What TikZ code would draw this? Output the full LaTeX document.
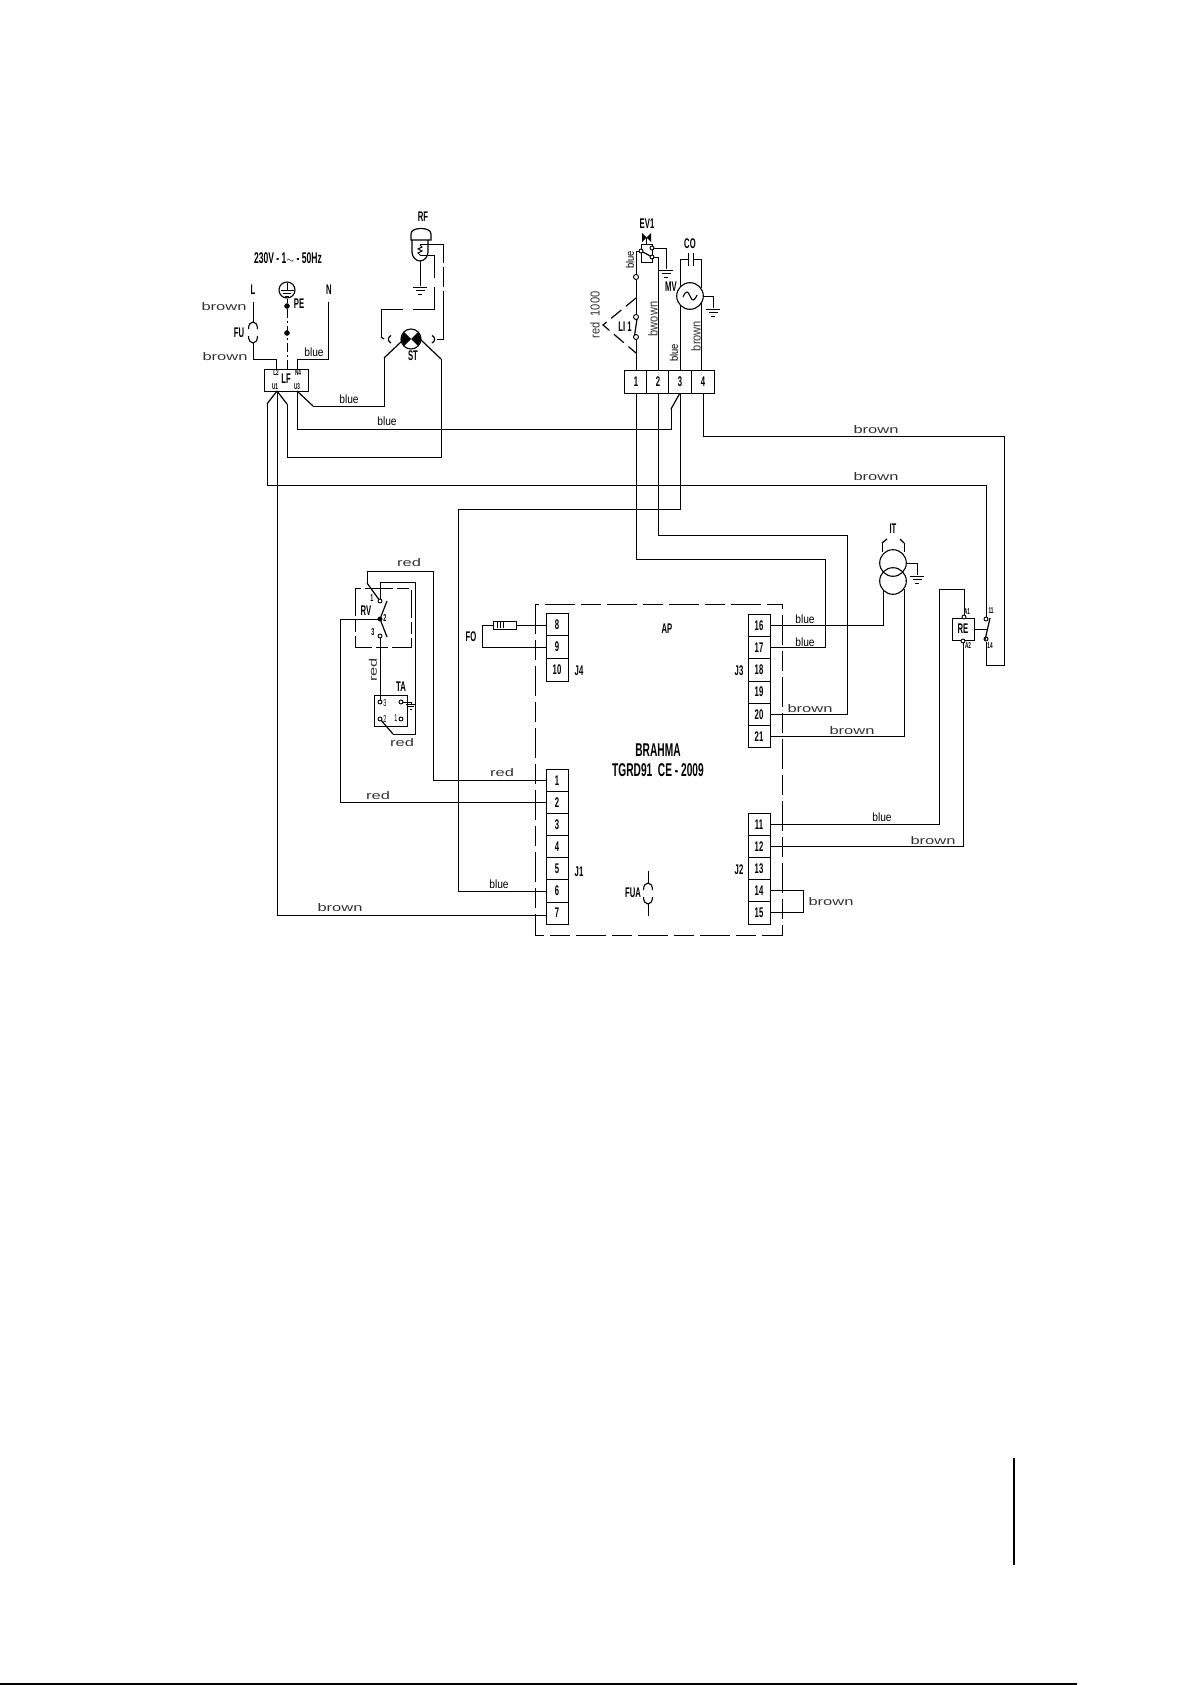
\documentclass[tikz,border=0pt]{standalone}
\usepackage{fontspec}
\newfontfamily\cadb[FakeStretch=0.55]{Liberation Sans}
\newfontfamily\cadw[FakeStretch=1.5]{Liberation Sans}
\newfontfamily\cadn[FakeStretch=0.85]{Liberation Sans}
\newcommand\fpin{\cadb\bfseries\fontsize{14}{14}\selectfont}
\newcommand\flab{\cadb\bfseries\fontsize{14}{14}\selectfont}
\newcommand\fsmall{\cadb\bfseries\fontsize{8.5}{8.5}\selectfont}
\newcommand\ftitle{\cadb\bfseries\fontsize{18.5}{18.5}\selectfont}
\newcommand\fwide{\cadw\fontsize{11}{11}\selectfont\color{black!80}}
\newcommand\fblue{\cadn\fontsize{12}{12}\selectfont}
\newcommand\frot{\cadn\fontsize{13}{13}\selectfont\color{black!80}}
\tikzset{
  wire/.style={line width=0.95pt,line join=miter},
  diag/.style={line width=1.2pt},
  dashbox/.style={line width=0.95pt,dash pattern=on 30pt off 6pt on 20pt off 6pt},
  pin/.style={draw,line width=0.95pt,minimum width=22pt,minimum height=22.15pt,inner sep=0pt,font=\fpin},
  lab/.style={inner sep=0pt,font=\flab},
  small/.style={inner sep=0pt,font=\fsmall},
  wlab/.style={inner sep=0pt,font=\fwide},
  blab/.style={inner sep=0pt,font=\fblue},
  term/.style={draw,circle,line width=0.9pt,fill=white,minimum size=5pt,inner sep=0pt},
  dot/.style={draw,circle,fill=black,minimum size=5pt,inner sep=0pt},
  earth/.pic={\draw[line width=0.95pt] (-7,0)--(7,0) (-4.5,3.5)--(4.5,3.5) (-2,7)--(2,7);},
  fuse/.pic={\draw[line width=1.1pt] (-4.5,-3.5) .. controls (-4.5,-8) and (-2.5,-10.5) .. (0,-10.5) .. controls (2.5,-10.5) and (4.5,-8) .. (4.5,-3.5)
     (-4.5,3.5) .. controls (-4.5,8) and (-2.5,10.5) .. (0,10.5) .. controls (2.5,10.5) and (4.5,8) .. (4.5,3.5);}
}
\begin{document}
\begin{tikzpicture}[x=1pt,y=-1pt]
\useasboundingbox (0,0) rectangle (1192,1685);
% ---- page marks
\coordinate (va) at (1014,1458); \coordinate (vb) at (1014,1565);
\coordinate (ba) at (0,1684); \coordinate (bb) at (1077,1684);
\draw[line width=1.3pt] (va)--(vb);
\draw[line width=2pt] (ba)--(bb);
% ---- board
\coordinate (apnw) at (535,604); \coordinate (apse) at (782,935);
\draw[dashbox] (apnw) rectangle (apse);
\foreach \n/\y in {8/625,9/647,10/670}{\node[pin,fill=white] (p\n) at (557,\y) {\n};}
\foreach \n/\y in {1/780.5,2/802.6,3/824.7,4/846.8,5/868.9,6/891,7/913.1}{\node[pin,fill=white] (a\n) at (557,\y) {\n};}
\foreach \n/\y in {16/625.5,17/647.7,18/669.9,19/692.1,20/714.3,21/736.5}{\node[pin,fill=white] (p\n) at (759,\y) {\n};}
\foreach \n/\y in {11/824.5,12/846.6,13/868.7,14/890.8,15/912.9}{\node[pin,fill=white] (p\n) at (759,\y) {\n};}
\node[lab] (tj4) at (579,671) {J4};
\node[lab] (tj3) at (739,671) {J3};
\node[lab] (tj1) at (579,872) {J1};
\node[lab] (tj2) at (739,870) {J2};
\node[lab] (tap) at (667,629) {AP};
\node[inner sep=0pt,font=\ftitle] (tbr) at (658,750) {BRAHMA};
\node[inner sep=0pt,font=\ftitle] (ttg) at (658,770) {TGRD91\ \ CE - 2009};
\node[lab] (tfua) at (633,893) {FUA};
\coordinate (fuat) at (648,871); \coordinate (fuab) at (648,916);
\draw[wire] (fuat)--(648,883) (648,904)--(fuab);
\pic at (648,893.5) {fuse};
% ---- FO
\node[draw,line width=0.95pt,minimum width=23pt,minimum height=8pt,inner sep=0pt] (fo) at (504.5,625) {};
\draw[line width=0.8pt] (497,622)--(497,628) (500,622)--(500,628) (503,622)--(503,628);
\draw[wire] (p8.west)--(fo.east);
\draw[wire] (fo.west)--(482,625)--(482,647)--(p9.west);
\node[lab] (tfo) at (471,637) {FO};
% ---- LF
\node[draw,line width=0.95pt,minimum width=44.5pt,minimum height=22pt,inner sep=0pt] (lf) at (286.5,380) {};
\node[lab] (tlf) at (286,379) {LF};
\node[small] (tl2) at (276,373) {L2};
\node[small] (tn4) at (298,373) {N4};
\node[small] (tu1) at (275,387) {U1};
\node[small] (tu3) at (297,387) {U3};
\coordinate (u1) at (277,391); \coordinate (u3) at (297,391);
\coordinate (l2) at (276,369); \coordinate (n4) at (297,369);
\node[lab,font=\cadb\bfseries\fontsize{15.5}{15.5}\selectfont] (t230) at (288,258) {230V - 1\scalebox{0.7}[0.8]{$\sim$} - 50Hz};
\node[lab] (tL) at (253,290) {L};
\node[lab] (tN) at (329,290) {N};
\node[lab] (tPE) at (299,304) {PE};
\node[lab] (tFU) at (239,333) {FU};
\node[wlab] (tb1) at (224,307) {brown};
\node[wlab] (tb2) at (225,357) {brown};
\node[blab] (tb3) at (314,352) {blue};
\node[blab] (tb4) at (349,399) {blue};
\node[blab] (tb5) at (387,421) {blue};
% L, fuse
\coordinate (Ltop) at (253,302);
\draw[wire] (Ltop)--(253,322) (253,343)--(253,359)--(276,359)--(l2);
\pic at (253,332.5) {fuse};
% PE
\node[draw,circle,line width=1.1pt,minimum size=16pt,inner sep=0pt] (pe) at (287,290) {};
\draw[line width=0.9pt] (280.5,290)--(293.5,290) (283,293)--(291,293) (285,296)--(289,296) (287,283)--(287,290);
\node[dot] (d1) at (287,306) {};
\node[dot] (d2) at (287,333) {};
\draw[wire] (pe.south)--(d1);
\draw[wire,dash pattern=on 9pt off 3pt on 2pt off 3pt] (d1)--(287,369);
% N
\coordinate (Ntop) at (328,302);
\draw[wire] (Ntop)--(328,359)--(297,359)--(n4);
% ---- ST and RF
\node[draw,circle,line width=1.1pt,minimum size=20pt,inner sep=0pt] (st) at (411,339) {};
\fill (403.9,331.9)--(418.1,346.1)--(421,339)--(418.1,331.9)--(403.9,346.1)--(401,339)--cycle;
\node[lab] (tst) at (413,356) {ST};
\node[lab] (trf) at (423,217) {RF};
\coordinate (stl) at (402,341); \coordinate (str) at (420,339);
\draw[diag] (u3)--(313,406) (384,358)--(stl);
\draw[wire] (313,406)--(384,406)--(384,358);
\draw[diag] (u1)--(287,404) (441,359)--(str);
\draw[wire] (287,404)--(287,457)--(441,457)--(441,359);
\draw[wire] (u3)--(297,429)--(671,429)--(671,409);
\draw[diag] (671,409)--(680,393);
\coordinate (w7) at (277,915);
\draw[wire] (u1)--(w7)--(w7-|a7.west);
\draw[diag] (u1)--(267,404);
\draw[wire] (267,404)--(267,485)--(986,485)--(986,616.5);
% RF bulb
\draw[diag] (411,240) -- (411,234) .. controls (411,230) and (416,228.5) .. (421,228.5) .. controls (426,228.5) and (431,230) .. (431,234) -- (431,240) -- cycle;
\draw[diag] (412,240)--(412,252) .. controls (412,257) and (416,261) .. (420,261) .. controls (424,261) and (428,257) .. (428,252)--(428,240);
\coordinate (rfb) at (420,261);
\draw[wire] (rfb)--(420,286);
\pic at (420,287) {earth};
\draw[line width=0.9pt] (420,245)--(422,247)--(418,249)--(422,251)--(418,253)--(420,255);
\draw[wire] (420,244)--(443,244)--(443,263);
\draw[wire] (443,267)--(443,287) (443,291)--(443,339)--(437,339);
\draw[wire] (420,255)--(434,255)--(434,278);
\draw[wire] (434,287)--(434,309)--(413,309);
\draw[wire] (403,309)--(381,309)--(381,337);
\draw[diag] (381,337)--(384,339);
\draw[diag] (391,335.5) .. controls (387.5,337) and (387.5,341.5) .. (391,343);
\draw[diag] (432,335.5) .. controls (435.5,337) and (435.5,341.5) .. (432,343);
% ---- EV1, LI1, connector block
\foreach \n/\x in {1/636,2/658,3/680,4/703}{\node[pin,fill=white,minimum width=22.4pt] (c\n) at (\x,382) {\n};}
\node[lab] (tev) at (647,224) {EV1};
\fill (642,233)--(651,242)--(651,233)--(642,242)--cycle;
\coordinate (evt) at (646.5,238);
\node[draw,line width=0.95pt,minimum width=11pt,minimum height=18pt,inner sep=0pt] (ev) at (646.5,253) {};
\draw[wire] (evt)--(ev.north);
\draw[wire] (636,251)--(641,251);
\draw[diag] (641,251)--(652,257);
\draw[wire] (652,248)--(666,248)--(666,269);
\pic at (666,270) {earth};
\draw[wire] (652,257)--(658,257)--(c2.north);
\draw[wire] (636,251)--(636,277);
\node[term] (li0) at (636,277) {};
\draw[wire] (li0)--(636,314);
\node[term] (li1) at (636,317) {};
\node[term] (li2) at (636,337) {};
\draw[diag] (637,319)--(634.5,336);
\draw[wire] (li2)--(c1.north);
\node[term,minimum size=4pt] (e1) at (641,251) {};
\node[term,minimum size=4pt] (e2) at (652,248) {};
\node[term,minimum size=4pt] (e3) at (652,257) {};
\draw[diag,dash pattern=on 13pt off 6pt] (636,298)--(603,325)--(636,353);
\node[inner sep=0pt,font=\frot,rotate=90] (tred) at (595,315) {red\ \ 1000};
\node[lab] (tli) at (625,327) {LI 1};
\node[inner sep=0pt,font=\cadn\fontsize{11}{11}\selectfont,rotate=90] (tbl1) at (630,260) {blue};
\node[inner sep=0pt,font=\frot,rotate=90] (tbw) at (653,319) {bwown};
\node[inner sep=0pt,font=\cadn\fontsize{11}{11}\selectfont,rotate=90] (tbl2) at (674,353) {blue};
\node[inner sep=0pt,font=\frot,rotate=90] (tbr2) at (696,336) {brown};
% MV, CO
\node[draw,circle,line width=1.1pt,minimum size=26.6pt,inner sep=0pt] (mv) at (690,296) {};
\draw[line width=1.1pt] (683,297) .. controls (686,290) and (688,291) .. (690,296) .. controls (692,301) and (694,302) .. (697,295);
\node[lab] (tmv) at (671,287) {MV};
\node[lab] (tco) at (690,244) {CO};
\draw[wire] (mv.east)--(713,296)--(713,308);
\pic at (713,309) {earth};
\coordinate (cl) at (688,259); \coordinate (cr) at (693,259);
\draw[wire] (688,253)--(cl) (688,266)--(cl) (693,253)--(cr) (693,266)--(cr);
\draw[wire] (cl)--(680,259)--(680,287);
\draw[wire] (680,305)--(c3.north);
\draw[wire] (cr)--(701,259)--(701,288.5);
\draw[wire] (701,303.5)--(701,371);
% below block
\draw[wire] (c1.south)--(636,559)--(825,559)--(825,647.7)--(p17.east);
\draw[wire] (c2.south)--(658,535)--(847,535)--(847,714.3)--(p20.east);
\draw[wire] (c3.south)--(680,509)--(458,509)--(458,891)--(a6.west);
\draw[wire] (c4.south)--(703,436)--(1004,436)--(1004,665)--(986,665)--(986,641.5);
\node[wlab] (tbr3) at (876,430) {brown};
\node[wlab] (tbr4) at (876,477) {brown};
% ---- IT
\node[draw,circle,line width=1.1pt,minimum size=26.6pt,inner sep=0pt] (it1) at (893,563) {};
\node[draw,circle,line width=1.1pt,minimum size=26.6pt,inner sep=0pt] (it2) at (893,581) {};
\node[lab] (tit) at (893,529) {IT};
\draw[wire] (882,552)--(882,543) (904,552)--(904,543);
\draw[diag] (882,543)--(887,539) (904,543)--(900,539);
\draw[wire] (p16.east)--(883,625.5)--(883,591);
\draw[wire] (p21.east)--(904,736.5)--(904,589);
\draw[wire] (it1.east)--(917,563)--(917,575);
\pic at (917,576) {earth};
\node[blab] (tbl3) at (805,619) {blue};
\node[blab] (tbl4) at (805,642) {blue};
\node[wlab] (tbr5) at (810,709) {brown};
\node[wlab] (tbr6) at (852,731) {brown};
% ---- RE
\node[draw,line width=0.95pt,minimum size=22pt,inner sep=0pt] (re) at (963,629) {};
\node[lab] (tre) at (963,629) {RE};
\node[term,minimum size=4pt] (ra1) at (964,617) {};
\node[term,minimum size=4pt] (ra2) at (963,641) {};
\node[term,minimum size=4pt] (k11) at (986,619) {};
\node[term,minimum size=4pt] (k14) at (986,639) {};
\draw[wire] (ra1)--(964,589)--(939.5,589)--(939.5,824.5)--(p11.east);
\draw[wire] (ra2)--(963,846.6)--(p12.east);
\draw[wire] (re.east)--(987,629);
\draw[diag] (990,618)--(985,640);
\node[small] (ta1) at (967,612) {A1};
\node[small] (ta2) at (968,646) {A2};
\node[small] (t11) at (991,611) {11};
\node[small] (t14) at (990,646) {14};
\draw[wire] (p14.east)--(803,890.8)--(803,912.9)--(p15.east);
\node[blab] (tbl5) at (882,817) {blue};
\node[wlab] (tbr7) at (933,841) {brown};
\node[wlab] (tbr8) at (831,902) {brown};
% ---- RV, TA
\draw[line width=0.95pt,dash pattern=on 28pt off 4pt on 12pt off 4pt] (355,588) rectangle (411,647);
\node[term,minimum size=4pt] (rv1) at (380,601) {};
\node[dot,minimum size=4.5pt] (rv2) at (380,619) {};
\node[term,minimum size=4pt] (rv3) at (380,636) {};
\draw[diag] (rv2)--(387,601) (rv2)--(387,637);
\node[lab] (trv) at (366,611) {RV};
\node[small,font=\cadb\bfseries\fontsize{10}{10}\selectfont] (t1) at (372,598) {1};
\node[small,font=\cadb\bfseries\fontsize{10}{10}\selectfont] (t2) at (385,618) {2};
\node[small,font=\cadb\bfseries\fontsize{10}{10}\selectfont] (t3) at (373,632) {3};
\node[draw,line width=0.95pt,minimum width=33pt,minimum height=31pt,inner sep=0pt] (ta) at (390.5,710.5) {};
\node[term,minimum size=4pt] (ta3) at (380,702) {};
\node[term,minimum size=4pt] (ta2n) at (380,719) {};
\node[term,minimum size=4pt] (ta4) at (401,702) {};
\node[term,minimum size=4pt] (ta1n) at (401,719) {};
\node[small,font=\cadb\fontsize{10}{10}\selectfont] (t5) at (385,703) {3};
\node[small,font=\cadb\fontsize{10}{10}\selectfont] (t6) at (385,719) {2};
\node[small,font=\cadb\fontsize{10}{10}\selectfont] (t7) at (396,718) {1};
\node[lab] (tta) at (401,687) {TA};
\draw[wire] (rv3)--(ta3);
\draw[wire] (ta4)--(412,702);
\draw[line width=0.95pt] (406,704)--(416,704) (408,706.5)--(414,706.5) (410,709)--(412,709) (411,702)--(411,704);
\draw[wire] (rv1)--(380,582)--(415,582)--(415,734)--(393,734);
\draw[diag] (393,734)--(ta2n);
\draw[diag] (rv1)--(367,583);
\draw[wire] (367,583)--(367,571)--(433,571)--(433,780.5)--(a1.west);
\draw[wire] (rv2)--(340,619)--(340,802.6)--(a2.west);
\node[wlab] (tr1) at (409,563) {red};
\node[wlab,rotate=90] (tr2) at (373,670) {red};
\node[wlab] (tr3) at (402,743) {red};
\node[wlab] (tr4) at (502,773) {red};
\node[wlab] (tr5) at (378,796) {red};
\node[wlab] (tb7) at (340,908) {brown};
\node[blab] (tb8) at (499,884) {blue};
\end{tikzpicture}
\end{document}
